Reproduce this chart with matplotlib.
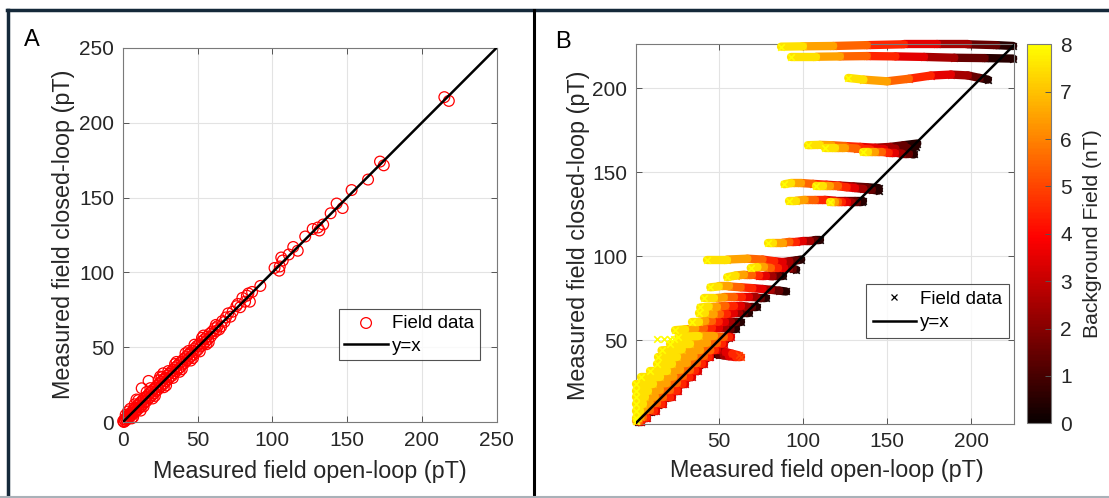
import numpy as np
import matplotlib
matplotlib.use('Agg')
import matplotlib.pyplot as plt
from matplotlib.colors import ListedColormap, Normalize
from matplotlib.collections import LineCollection
from matplotlib.lines import Line2D
from matplotlib.cm import ScalarMappable

plt.rcParams['font.family'] = ['Liberation Sans', 'DejaVu Sans']

# ---- panel A: measured field, open-loop vs closed-loop (pT) ----
open_a = [0.3, 0.8, 1.2, 1.6, 2.1, 2.5, 3.0, 3.4, 3.9, 4.3, 4.8, 5.2, 5.8, 6.1, 6.7, 7.2, 7.6, 8.2, 8.7, 9.1,
          9.7, 10.3, 10.8, 11.4, 12.0, 12.5, 13.1, 13.7, 14.2, 14.9, 15.5, 16.0, 16.8, 17.3, 18.0, 18.6, 19.2, 19.9,
          20.5, 21.1, 21.8, 22.4, 23.1, 23.7, 24.4, 25.0, 25.7, 26.3, 27.0, 27.7, 28.3, 29.0, 29.7, 30.3, 31.0,
          31.7, 32.4, 33.0, 33.8, 34.4, 35.1, 35.8, 36.5, 37.2, 37.9, 38.6, 39.3, 40.0, 40.7, 41.5, 42.2, 42.9,
          43.7, 44.4, 45.1, 45.9, 46.6, 47.4, 48.1, 48.9, 49.6, 50.4, 51.2, 52.0, 52.8, 53.6, 54.5, 55.3, 56.2,
          57.1, 58.0, 58.9, 59.8, 60.7, 61.6, 62.5, 63.5,
          3.5, 6.0, 10.5, 14.0, 18.5, 21.5, 24.0, 27.5, 30.5, 33.5, 36.0, 39.5, 42.0, 45.5, 48.0, 51.5, 54.0,
          57.5, 8.0, 12.0, 16.0, 20.0, 26.0, 29.0, 35.0, 38.0, 44.0, 47.0, 53.0, 56.0,
          12.7, 17.3, 9.2, 27.1, 25.0, 5.0, 2.0, 7.0,
          64.5, 65.8, 62.3, 66.5, 68.0, 69.0, 70.5, 72.0, 73.5, 76.0, 77.0, 78.5,
          80.0, 81.8, 83.0, 85.0, 86.5, 84.0, 92.0, 101.5, 104.6, 105.0, 107.0, 106.0, 111.0, 114.0, 117.0,
          122.0, 127.0, 131.5, 134.0, 130.5, 139.0, 143.0, 147.0, 153.0, 164.0, 172.0, 174.5, 215.0, 218.0]
closed_a = [0.8, 0.2, 1.9, 0.9, 2.8, 1.6, 3.6, 2.4, 4.8, 3.1, 5.9, 4.2, 6.4, 4.9, 7.8, 6.0, 8.9, 7.1, 9.6, 7.6,
            11.2, 8.8, 12.1, 10.2, 13.4, 11.0, 14.6, 12.1, 15.3, 13.5, 16.9, 14.2, 18.1, 15.9, 19.5, 17.0, 20.4,
            18.3, 22.0, 19.4, 23.1, 20.9, 24.6, 22.0, 25.5, 23.6, 27.1, 24.5, 28.4, 25.9, 29.6, 27.4, 31.2, 28.5,
            32.3, 30.2, 33.8, 31.1, 35.0, 32.8, 36.6, 34.1, 37.7, 35.6, 39.4, 36.8, 40.5, 38.6, 42.1, 39.7, 43.5,
            41.4, 45.0, 42.6, 46.4, 44.3, 47.8, 45.2, 49.3, 47.1, 50.9, 48.5, 52.1, 50.6, 53.9, 51.8, 55.4, 53.6,
            57.0, 55.5, 59.1, 57.2, 60.6, 59.4, 62.8, 61.0, 64.2,
            7.2, 2.6, 14.8, 10.6, 22.8, 17.6, 28.1, 23.4, 34.2, 29.6, 40.3, 35.4, 46.1, 41.2, 51.8, 47.3, 57.9,
            53.4, 12.0, 7.8, 20.2, 15.9, 30.0, 24.6, 38.9, 33.7, 47.6, 42.9, 56.4, 52.1,
            22.7, 27.6, 15.2, 32.7, 30.5, 9.0, 5.0, 3.5,
            62.0, 63.9, 65.0, 67.5, 67.0, 70.0, 72.7, 70.5, 73.8, 77.5, 79.0, 76.8,
            83.0, 80.5, 84.5, 80.5, 87.0, 86.0, 91.0, 103.0, 101.2, 104.0, 108.0, 110.0, 112.0, 117.0, 114.5,
            124.0, 129.0, 128.0, 132.0, 130.0, 139.5, 146.0, 143.0, 155.0, 162.0, 174.0, 171.5, 217.0, 214.5]

# ---- panel B: sweeps of background field (nT), one streak per applied field ----
bg_levels = [0, 1, 2, 3, 4, 5, 6, 7, 8]
streak_open = [
    [225, 215, 198, 180, 160, 138, 118, 100, 87],
    [225, 208, 190, 172, 155, 138, 122, 108, 93],
    [210, 205, 198, 188, 176, 163, 150, 136, 127],
    [168, 160, 152, 143, 134, 125, 117, 110, 103],
    [167, 162, 155, 148, 140, 132, 125, 119, 113],
    [166, 163, 159, 155, 151, 147, 143, 139, 136],
    [145, 138, 130, 122, 114, 106, 99, 93, 89],
    [145, 141, 136, 131, 126, 121, 116, 112, 108],
    [136, 131, 125, 119, 113, 107, 101, 96, 92],
    [135, 132, 129, 126, 123, 121, 119, 117, 116],
    [110, 107, 104, 100, 96, 92, 88, 82, 79],
    [99, 96, 92, 88, 83, 76, 67, 55, 43],
    [96, 94, 91.5, 88.5, 85, 81, 77, 73, 69],
    [88, 85, 82, 78, 74, 70, 65, 60, 55],
    [90, 86, 81, 76, 70, 63, 56, 50, 45],
    [78, 75, 72, 68, 64, 59, 53, 47, 41],
    [73, 70, 67, 63, 59, 54, 49, 44, 39],
    [68, 65, 62, 59, 55, 51, 47, 42, 38],
    [63, 60, 57, 54, 50, 46, 42, 38, 34],
    [60, 57, 54, 50, 46, 41, 36, 30, 24],
    [52.5, 54, 56, 57, 56, 53, 47, 38, 26],
    [48.5, 50, 52, 53, 52, 49, 43, 33, 21],
    [44.5, 46, 48, 49, 48, 45, 39, 28, 16],
    [40.5, 42, 44, 45, 44, 41, 35, 25, 14],
    [36.5, 38, 40, 41, 40, 37, 31, 22, 13],
    [32.5, 34, 36, 37.5, 36, 33, 27, 19, 9],
    [28.5, 30, 32.5, 34, 32.5, 29, 23, 15, 4],
    [24.5, 26, 28.5, 30, 28.5, 25, 19, 11, 1],
    [20.5, 22, 24.5, 26, 25, 21, 15, 8, 1],
    [16.5, 18, 20.5, 22, 21, 17, 12, 6, 1],
    [12.5, 14, 16, 17, 16, 13, 9, 5, 1],
    [8.5, 10, 11.5, 12.5, 11.5, 9, 6, 3, 1],
    [4.5, 5.5, 6.5, 7.5, 7, 5, 3.5, 2, 1],
    [2, 2.5, 3.5, 4, 3.5, 2.5, 1.5, 1, 0.5],
    [45, 48, 51, 54, 58, 62],
    [47, 50, 53, 56, 60, 63],
]
streak_closed = [
    [225, 225.5, 226, 226, 226, 225.5, 225, 224.8, 224.6],
    [217.5, 217.8, 218, 218.5, 218.8, 219, 218.8, 218.6, 218.6],
    [205, 206, 207.5, 208, 207.4, 205.5, 204, 205, 206],
    [167, 166, 165, 164.5, 165, 165.5, 166, 166.2, 166],
    [165, 164.5, 164, 163.5, 163.5, 164, 164.5, 164.5, 164.5],
    [160.5, 161, 161, 161.5, 161.5, 162, 162, 162, 162],
    [140.5, 141, 141.5, 142, 142.5, 143, 143.5, 143.5, 142.8],
    [139, 139.5, 140, 140.5, 141, 141.5, 141.5, 141.5, 141.5],
    [133, 133, 133, 133, 133.5, 133.5, 133.5, 133, 133],
    [132, 132, 132, 132.5, 132.5, 132.5, 132.5, 132.5, 132.5],
    [109.5, 109.5, 109, 109, 108.5, 108.5, 108, 108, 108],
    [98, 97.5, 97, 96.5, 97, 98, 98.5, 98, 98],
    [92, 92.5, 93, 93, 93, 93, 93.5, 93.5, 93],
    [88, 88, 88, 88.5, 88.5, 89, 89, 88.5, 87.5],
    [79, 79.5, 80, 80.5, 81, 81.5, 82, 82, 81.5],
    [75, 75, 75.5, 75.5, 75.5, 75.5, 75.5, 75, 75],
    [70, 70, 70, 70.5, 70.5, 70.5, 70, 70, 69.5],
    [66, 66, 66, 66, 65.5, 65.5, 65.5, 66, 66],
    [61, 61, 61, 61, 61, 61.5, 61.5, 61, 61],
    [56.5, 56.5, 57, 57, 57, 57, 57, 56.5, 56],
    [51, 51, 51.5, 52, 52, 52, 52.5, 52.5, 52],
    [47.5, 47.5, 48, 48, 48, 48.5, 48.5, 48, 48],
    [43.5, 43.5, 44, 44, 44, 44, 44.5, 44.5, 44],
    [39.5, 39.5, 40, 40, 40, 40.5, 40.5, 40, 40],
    [35.5, 35.5, 36, 36, 36, 36.5, 36.5, 36, 36],
    [31.5, 31.5, 32, 32, 32, 32.5, 32.5, 32, 32],
    [27.5, 27.5, 28, 28, 28, 28.5, 28.5, 28, 28],
    [23.5, 23.5, 24, 24, 24, 24.5, 24.5, 24, 24],
    [19.5, 19.5, 20, 20, 20, 20.5, 20.5, 20, 20],
    [15.5, 15.5, 16, 16, 16, 16.5, 16.5, 16, 16],
    [11.5, 11.5, 12, 12, 12, 12.5, 12.5, 12, 12],
    [7.5, 7.5, 8, 8, 8, 8.5, 8.5, 8, 8],
    [3.5, 3.5, 4, 4, 4, 4.5, 4.5, 4, 4],
    [1.5, 1.5, 1.5, 1.5, 2, 2, 2, 2, 2],
    [45, 44.5, 44, 43, 42, 41],
    [42, 41.5, 41, 40.5, 40, 40],
]
stray_open = [13, 17.5, 21, 23.5]
stray_closed = [50.5, 50.5, 50.5, 50.5]
stray_bg = [8, 8, 8, 8]

W, H = 1109, 498
fig = plt.figure(figsize=(W / 100, H / 100), dpi=100)
fig.patch.set_facecolor('white')

tick_color = '#262626'
grid_color = '#e3e3e3'


def style_axes(ax):
    ax.grid(True, color=grid_color, lw=0.8)
    ax.set_axisbelow(True)
    for s in ax.spines.values():
        s.set_color('#7a7a7a')
        s.set_linewidth(0.8)
    ax.tick_params(direction='in', length=4, width=0.7, color='#555555', labelcolor=tick_color,
                   labelsize=15, top=True, right=True, pad=6)


# ---- panel A ----
axA = fig.add_axes([122.7 / W, 1 - 422.3 / H, 374 / W, 374.6 / H])
axA.scatter(open_a, closed_a, s=60, facecolors='none', edgecolors='#ff0000', linewidths=0.9,
            label='Field data', zorder=2, clip_on=False)
axA.plot([0, 250], [0, 250], color='black', lw=1.8, label='y=x', zorder=3)
axA.set_xlim(0, 250)
axA.set_ylim(0, 250)
axA.set_xticks(range(0, 251, 50))
axA.set_yticks(range(0, 251, 50))
style_axes(axA)
axA.set_xlabel('Measured field open-loop (pT)', fontsize=16.8, color=tick_color)
axA.set_ylabel('Measured field closed-loop (pT)', fontsize=16.8, color=tick_color)
axA.xaxis.set_label_coords(0.501, -0.10)
axA.yaxis.set_label_coords(-0.127, 0.503)
legA = axA.legend(loc='upper left', bbox_to_anchor=(0.578, 0.302), fontsize=13.5, frameon=True,
                  fancybox=False, handlelength=2.3, handletextpad=0.25, labelspacing=0.3,
                  borderpad=0.3, borderaxespad=0)
legA.get_frame().set_edgecolor('#262626')
legA.get_frame().set_linewidth(0.8)

# ---- panel B ----
cmap = ListedColormap(plt.cm.hot(np.linspace(0, 0.746, 256)))
norm = Normalize(0, 8)

axB = fig.add_axes([635.5 / W, 1 - 423.5 / H, 378.5 / W, 379.2 / H])

# collect segments and points per background level so higher fields sit on top
seg_by_level, pts_by_level = {}, {}
for xs, ys in zip(streak_open, streak_closed):
    b = bg_levels[:len(xs)]
    for i in range(len(xs) - 1):
        mid = (b[i] + b[i + 1]) / 2
        seg_by_level.setdefault(mid, []).append([(xs[i], ys[i]), (xs[i + 1], ys[i + 1])])
    for xv, yv, bv in zip(xs, ys, b):
        pts_by_level.setdefault(bv, []).append((xv, yv))
for xv, yv, bv in zip(stray_open, stray_closed, stray_bg):
    pts_by_level.setdefault(bv, []).append((xv, yv))

for lvl, segs in seg_by_level.items():
    lc = LineCollection(segs, colors=[cmap(norm(lvl))], linewidths=6, capstyle='round',
                        zorder=2 + lvl / 10)
    lc.set_clip_on(False)
    axB.add_collection(lc)
for lvl, pts in pts_by_level.items():
    px, py = zip(*pts)
    axB.scatter(px, py, color=cmap(norm(lvl)), marker='x', s=22, linewidths=1.2,
                zorder=2.02 + lvl / 10, clip_on=False)
axB.plot([0.5, 225.5], [0.5, 225.5], color='black', lw=1.8, zorder=4)

axB.set_xlim(0.5, 225.5)
axB.set_ylim(0.5, 226)
axB.set_xticks([50, 100, 150, 200])
axB.set_yticks([50, 100, 150, 200])
style_axes(axB)
axB.set_xlabel('Measured field open-loop (pT)', fontsize=16.8, color=tick_color)
axB.set_ylabel('Measured field closed-loop (pT)', fontsize=16.8, color=tick_color)
axB.xaxis.set_label_coords(0.505, -0.094)
axB.yaxis.set_label_coords(-0.12, 0.497)
handlesB = [Line2D([], [], marker='x', color='black', ls='none', ms=5, mew=0.9),
            Line2D([], [], color='black', lw=1.8)]
legB = axB.legend(handlesB, ['Field data', 'y=x'], loc='upper left', bbox_to_anchor=(0.609, 0.368),
                  fontsize=13.5, frameon=True, fancybox=False, handlelength=2.3, handletextpad=0.25,
                  labelspacing=0.35, borderpad=0.35, borderaxespad=0)
legB.get_frame().set_edgecolor('#262626')
legB.get_frame().set_linewidth(0.8)
legB.set_zorder(10)

cax = fig.add_axes([1027 / W, 1 - 423.3 / H, 23.5 / W, 379 / H])
cb = fig.colorbar(ScalarMappable(norm=norm, cmap=cmap), cax=cax)
cb.set_ticks(range(0, 9))
cb.outline.set_edgecolor('#7a7a7a')
cb.outline.set_linewidth(0.8)
cax.tick_params(direction='in', length=4, width=0.7, color='#555555', labelcolor=tick_color,
                labelsize=15, pad=7)
cb.set_label('Background Field (nT)', fontsize=15.2, color=tick_color, labelpad=8)

# ---- panel letters and frame lines ----
fig.text(32 / W, 1 - 40 / H, 'A', fontsize=17, ha='center', va='center', color='black')
fig.text(562.5 / W, 1 - 41.5 / H, 'B', fontsize=17, ha='center', va='center', color='black')

frame = '#15293a'
fig.add_artist(Line2D([7 / W, 1], [1 - 10 / H, 1 - 10 / H], transform=fig.transFigure, color=frame, lw=2.5))
fig.add_artist(Line2D([8 / W, 8 / W], [0, 1 - 10 / H], transform=fig.transFigure, color=frame, lw=2.5))
fig.add_artist(Line2D([534 / W, 534 / W], [0, 1 - 10 / H], transform=fig.transFigure, color='black', lw=2.2))
fig.add_artist(Line2D([0, 1], [1.5 / H, 1.5 / H], transform=fig.transFigure, color='#a9b1b8', lw=1.5))

fig.savefig('out.png', dpi=100)
